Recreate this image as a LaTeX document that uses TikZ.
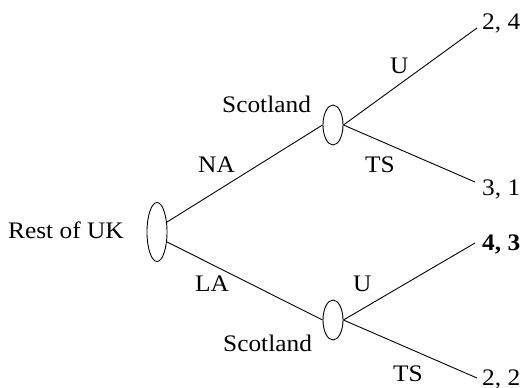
\documentclass[tikz,border=0pt]{standalone}
\usepackage{fontspec}
\setmainfont{Liberation Serif}[FakeStretch=1.07]
\usetikzlibrary{shapes.geometric}
\begin{document}
\begin{tikzpicture}[x=1pt,y=-1pt,
  chance/.style={ellipse,draw,line width=0.9pt,inner sep=0pt,minimum width=20pt},
  branch/.style={line width=0.9pt},
  lbl/.style={anchor=base west,inner sep=0pt,font=\fontsize{23.7}{28}\selectfont}]
\useasboundingbox (0,0) rectangle (520,388);

% decision points
\node[chance,minimum height=59pt] (root) at (157,232) {};
\node[chance,minimum height=40pt] (s1) at (333,125) {};
\node[chance,minimum height=40pt] (s2) at (333,320) {};

% ends of the terminal branches
\coordinate (e1) at (477,28);
\coordinate (e2) at (475,182);
\coordinate (e3) at (475,243);
\coordinate (e4) at (477,378);

% branches
\draw[branch] (root.45) -- (s1.west);
\draw[branch] (root.-45) -- (s2.west);
\draw[branch] (s1.east) -- (e1);
\draw[branch] (s1.east) -- (e2);
\draw[branch] (s2.east) -- (e3);
\draw[branch] (s2.east) -- (e4);

% players
\node[lbl] (pr) at (8,238) {Rest of UK};
\node[lbl] (p1) at (222,112) {Scotland};
\node[lbl] (p2) at (223,351) {Scotland};

% moves
\node[lbl] (na) at (198,172) {NA};
\node[lbl] (la) at (195,291) {LA};
\node[lbl] (u1) at (390,73) {U};
\node[lbl] (t1) at (365,172) {TS};
\node[lbl] (u2) at (353,291) {U};
\node[lbl] (t2) at (393,381) {TS};

% payoffs
\node[lbl] (o1) at (482,29) {2, 4};
\node[lbl] (o2) at (482,195) {3, 1};
\node[lbl] (o3) at (482,250) {\textbf{4, 3}};
\node[lbl] (o4) at (482,385) {2, 2};
\end{tikzpicture}
\end{document}
